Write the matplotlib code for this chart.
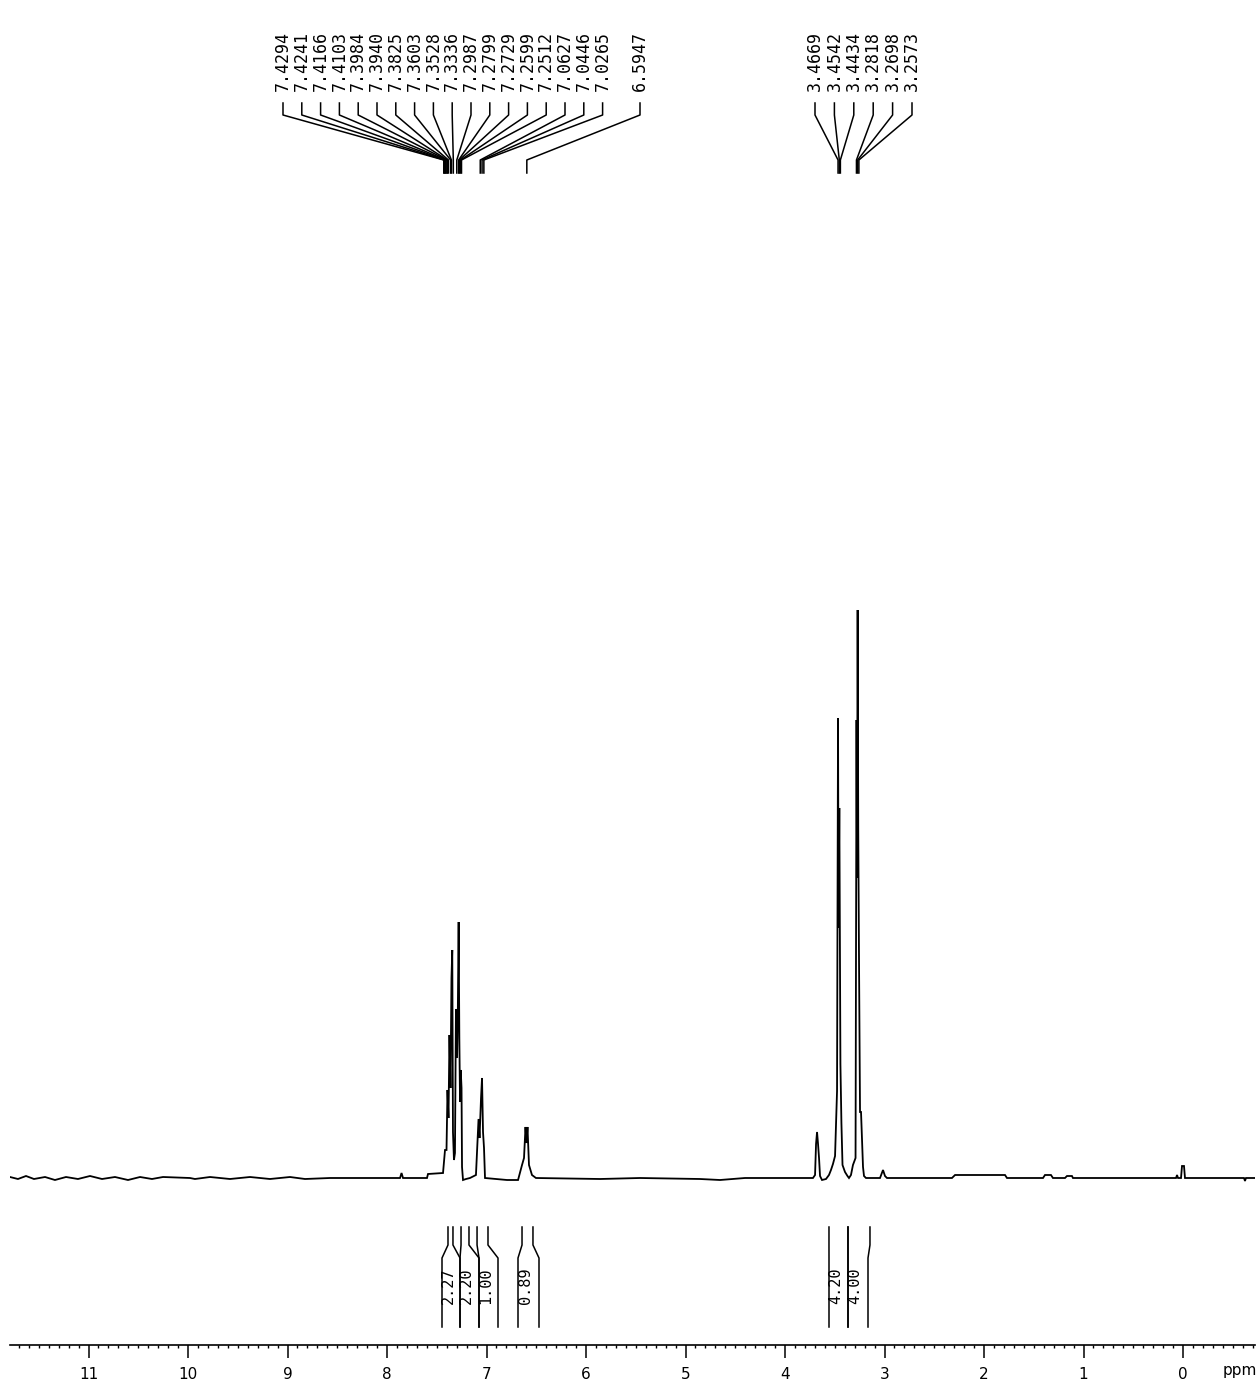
"""1H NMR spectrum printout
"""
import matplotlib
matplotlib.use("Agg")
import matplotlib.pyplot as plt
from matplotlib.ticker import MultipleLocator, FormatStrFormatter

# spectrum trace: chemical shift (ppm) and intensity (a.u.)
shift = [
	11.789, 11.709, 11.628, 11.548, 11.437, 11.337, 11.226, 11.106, 10.985, 10.864,
	10.734, 10.603, 10.482, 10.362, 10.251, 9.980, 9.930, 9.779, 9.578, 9.377,
	9.176, 8.975, 8.824, 8.573, 8.171, 7.869, 7.854, 7.839, 7.598, 7.588,
	7.437, 7.417, 7.402, 7.392, 7.382, 7.372, 7.362, 7.352, 7.344, 7.337,
	7.327, 7.317, 7.307, 7.296, 7.288, 7.280, 7.273, 7.266, 7.259, 7.251,
	7.246, 7.236, 7.206, 7.166, 7.106, 7.080, 7.070, 7.055, 7.045, 7.035,
	7.025, 7.015, 6.794, 6.683, 6.643, 6.623, 6.608, 6.598, 6.588, 6.573,
	6.543, 6.503, 5.859, 5.457, 4.854, 4.653, 4.402, 3.849, 3.719, 3.698,
	3.688, 3.678, 3.668, 3.658, 3.648, 3.628, 3.588, 3.558, 3.538, 3.518,
	3.497, 3.487, 3.477, 3.467, 3.462, 3.454, 3.443, 3.433, 3.422, 3.397,
	3.372, 3.357, 3.337, 3.317, 3.291, 3.281, 3.276, 3.270, 3.264, 3.257,
	3.246, 3.236, 3.226, 3.216, 3.206, 3.186, 3.045, 3.015, 2.995, 2.975,
	2.322, 2.291, 1.789, 1.769, 1.407, 1.387, 1.327, 1.307, 1.186, 1.166,
	1.116, 1.106, 0.070, 0.060, 0.050, 0.020, 0.010, -0.010, -0.020, -0.613,
	-0.623, -0.633, -0.724,
]
intensity = [
	1, -1, 2, -1, 1, -2, 1, -1, 2, -1,
	1, -2, 1, -1, 1, 0, -1, 1, -1, 1,
	-1, 1, -1, 0, 0, 0, 5, 0, 0, 4,
	5, 28, 28, 88, 60, 143, 90, 200, 228, 46,
	18, 25, 169, 120, 169, 256, 140, 76, 108, 90,
	11, -2, -1, 0, 3, 59, 40, 80, 100, 46,
	30, 0, -2, -2, 13, 20, 51, 35, 51, 13,
	3, 0, -1, 0, -1, -2, 0, 0, 0, 3,
	34, 46, 34, 20, 2, -2, -1, 3, 8, 14,
	22, 55, 87, 460, 250, 370, 114, 55, 13, 6,
	2, 0, 3, 13, 20, 458, 300, 568, 350, 230,
	66, 66, 38, 11, 2, 0, 0, 8, 2, 0,
	0, 3, 3, 0, 0, 3, 3, 0, 0, 2,
	2, 0, 0, 3, 0, 0, 12, 12, 0, 0,
	-3, 0, 0,
]

# picked peaks
peaks_aromatic = ["7.4294", "7.4241", "7.4166", "7.4103", "7.3984", "7.3940",
	"7.3825", "7.3603", "7.3528", "7.3336", "7.2987", "7.2799", "7.2729",
	"7.2599", "7.2512", "7.0627", "7.0446", "7.0265"]
peaks_single = ["6.5947"]
peaks_aliphatic = ["3.4669", "3.4542", "3.4434", "3.2818", "3.2698", "3.2573"]

# integrals
integral_values = ["2.27", "2.20", "1.00", "0.89", "4.20", "4.00"]
integral_start = [7.387, 7.256, 7.095, 6.643, 3.558, 3.367]
integral_end = [7.337, 7.176, 6.985, 6.533, 3.367, 3.146]

# page layout, in pixels of the printout
W, H = 1258, 1385
PX0, PPM_PX = 1183, 99.5   # pixel of 0 ppm, pixels per ppm
X_LEFT, X_RIGHT = 10, 1255


def px2ppm(x):
	return (PX0 - x) / PPM_PX


def fy(py):
	return 1 - py / H


xlim = (px2ppm(X_LEFT), px2ppm(X_RIGHT))
x0 = X_LEFT / W
w = (X_RIGHT - X_LEFT) / W

fig = plt.figure(figsize=(W / 100, H / 100), dpi=100)

# spectrum
base_py, top_py, bot_py = 1178, 590, 1200
ax = fig.add_axes([x0, fy(bot_py), w, (bot_py - top_py) / H])
ax.plot(shift, intensity, color="black", lw=1.3, solid_joinstyle="miter")
ax.set_xlim(xlim)
ax.set_ylim(-(bot_py - base_py), base_py - top_py)
ax.axis("off")

# overlay in page pixels for the labels and integrals
ov = fig.add_axes([x0, 0, w, 1])
ov.set_xlim(xlim)
ov.set_ylim(H, 0)
ov.axis("off")

mono = "DejaVu Sans Mono"


def peak_labels(labels, first_px, step_px):
	for i, lab in enumerate(labels):
		lx = px2ppm(first_px + i * step_px)
		p = float(lab)
		ov.text(lx, 91, lab, rotation=90, ha="center", va="bottom",
			fontsize=12, family=mono)
		ov.plot([lx, lx, p, p], [103, 115, 160, 173], color="black", lw=1.1)


peak_labels(peaks_aromatic, 283, 18.8)
peak_labels(peaks_single, 640, 0)
peak_labels(peaks_aliphatic, 815, 19.4)

# integral brackets
box_edges = [(442, 460), (460, 479), (479, 498), (518, 539), (829, 848), (848, 868)]
for val, a, b, (bl, br) in zip(integral_values, integral_start, integral_end, box_edges):
	for top, edge in ((a, px2ppm(bl)), (b, px2ppm(br))):
		ov.plot([top, top, edge, edge], [1227, 1245, 1258, 1327], color="black", lw=1.1)
	ov.text(px2ppm((bl + br) / 2 - 3), 1286, val, rotation=90, ha="center",
		va="center", fontsize=11, family=mono)

# ppm scale
sc = fig.add_axes([x0, fy(1345), w, 0.0001])
sc.set_xlim(xlim)
for s in ("top", "left", "right"):
	sc.spines[s].set_visible(False)
sc.spines["bottom"].set_linewidth(1.2)
sc.set_yticks([])
sc.xaxis.set_major_locator(MultipleLocator(1))
sc.xaxis.set_minor_locator(MultipleLocator(0.1))
sc.xaxis.set_major_formatter(FormatStrFormatter("%d"))
sc.tick_params(axis="x", which="major", direction="out", length=9, width=1.1,
	pad=7, labelsize=11)
sc.tick_params(axis="x", which="minor", direction="out", length=2.5, width=1)
ov.text(px2ppm(1240), 1371, "ppm", ha="center", va="center", fontsize=11)

fig.savefig("out.png", dpi=100)
